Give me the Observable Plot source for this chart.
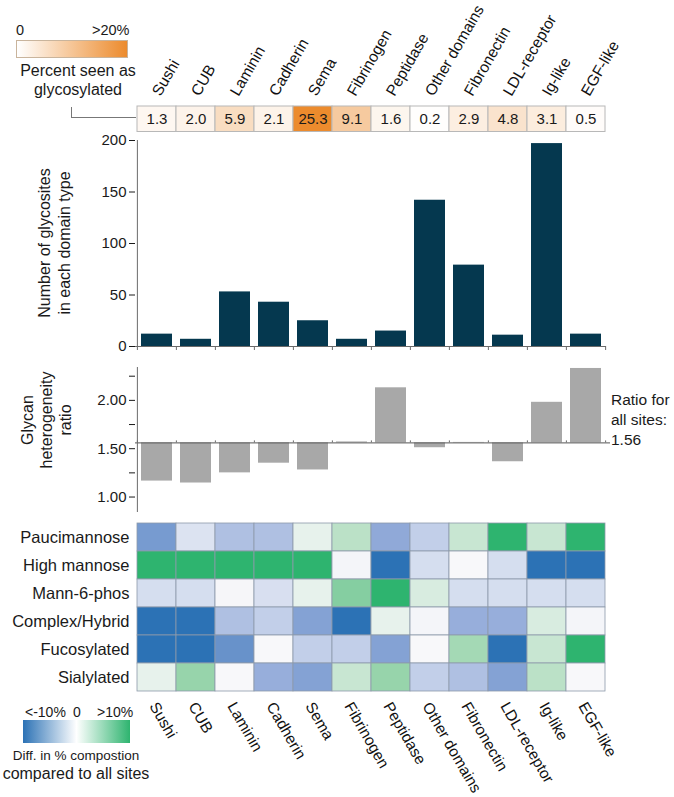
<!DOCTYPE html>
<html>
<head>
<meta charset="utf-8">
<script src="https://cdn.jsdelivr.net/npm/d3@7"></script>
<script src="https://cdn.jsdelivr.net/npm/@observablehq/plot@0.6"></script>
<style>
  html, body { margin: 0; padding: 0; background: #fff; }
  #root { position: relative; width: 674px; height: 797px; overflow: hidden; background: #fff;
          font-family: "Liberation Sans", Arial, Helvetica, sans-serif; color: #1a1a1a; }
  .panel { position: absolute; left: 0; }
  .lbl { position: absolute; white-space: nowrap; }
  .rot { position: absolute; transform: translate(-50%, -50%) rotate(-90deg); text-align: center; white-space: nowrap; }
</style>
</head>
<body>
<div id="root"></div>
<script>
// ---------- data ----------
const domains = ["Sushi", "CUB", "Laminin", "Cadherin", "Sema", "Fibrinogen", "Peptidase",
                 "Other domains", "Fibronectin", "LDL-receptor", "Ig-like", "EGF-like"];
const percentGlycosylated = [1.3, 2.0, 5.9, 2.1, 25.3, 9.1, 1.6, 0.2, 2.9, 4.8, 3.1, 0.5];
const glycositeCounts = [12, 7, 53, 43, 25, 7, 15, 142, 79, 11, 197, 12];
const heterogeneityRatio = [1.165, 1.145, 1.25, 1.35, 1.28, 1.57, 2.13, 1.51, 1.565, 1.365, 1.98, 2.33];
const overallRatio = 1.56;
const glycanTypes = ["Paucimannose", "High mannose", "Mann-6-phos", "Complex/Hybrid", "Fucosylated", "Sialylated"];
const paucimannoseDiff  = [-6.1, -1.3, -3.4, -3.4, 0.9, 3.3, -4.8, -2.5, 2.6, 10, 2.6, 10];
const highMannoseDiff   = [10, 10, 10, 10, 10, -0.2, -10, -1.6, 0, -1.6, -10, -10];
const mann6PhosDiff     = [-1.6, -1.6, -0.1, -1.5, 0.9, 6.0, 10, 1.7, -1.6, -1.6, -1.6, -1.6];
const complexHybridDiff = [-10, -10, -3.4, -2.5, -5.4, -10, 0.9, -0.2, -4.5, -4.5, 1.7, -0.2];
const fucosylatedDiff   = [-10, -10, -6.9, 0, -2.5, -2.5, -5.4, 0, 4.5, -10, 2.6, 10];
const sialylatedDiff    = [0.9, 5.2, 0, -4.5, -5.4, 2.6, 5.2, -2.5, -3.4, -5.4, 3.3, 0];
const countTicks = [0, 50, 100, 150, 200];
const ratioTicks = [1, 1.25, 1.5, 1.75, 2, 2.25];
const ratioTickLabels = [1, 1.5, 2];

// ---------- layout ----------
const W = 674, ML = 135, MR = 68;
const bw = (W - ML - MR) / domains.length;
const FONT = '"Liberation Sans", Arial, Helvetica, sans-serif';
const AXIS = "#6a6a6a";
const baseStyle = (fs) => ({fontFamily: FONT, fontSize: fs, color: "#1a1a1a", background: "transparent", overflow: "visible"});
const xBand = {type: "band", domain: domains, padding: 0, axis: null};
const root = document.getElementById("root");
function place(node, top) { const d = document.createElement("div"); d.className = "panel"; d.style.top = top + "px"; d.appendChild(node); root.appendChild(d); }
function label(html, css) { const d = document.createElement("div"); d.className = "lbl"; d.innerHTML = html; Object.assign(d.style, css); root.appendChild(d); return d; }

// ---------- panel 1: percent glycosylated table ----------
const tableData = domains.map((d, i) => ({domain: d, pct: percentGlycosylated[i]}));
place(Plot.plot({
  width: W, height: 135, marginLeft: ML, marginRight: MR, marginTop: 106, marginBottom: 3.5,
  x: xBand,
  color: {type: "linear", domain: [0, 20], range: ["#ffffff", "#ec8b2d"], clamp: true},
  style: baseStyle("15px"),
  marks: [
    Plot.cell(tableData, {x: "domain", fill: "pct", stroke: "#b8b8b8", strokeWidth: 1, inset: 0}),
    Plot.text(tableData, {x: "domain", text: d => d.pct.toFixed(1), fontSize: 15, fill: "#1a1a1a"}),
    Plot.text(domains, {x: d => d, text: d => d, frameAnchor: "top", dx: -6, dy: -15, rotate: -60,
                        textAnchor: "start", fontSize: 15.5, fill: "#111"})
  ]
}), 0);

// ---------- panel 2: glycosite counts ----------
const countData = domains.map((d, i) => ({domain: d, count: glycositeCounts[i]}));
const last = domains[domains.length - 1];
place(Plot.plot({
  width: W, height: 230, marginLeft: ML, marginRight: MR, marginTop: 10, marginBottom: 14,
  x: xBand,
  y: {domain: [0, 200], ticks: countTicks, tickSize: 6, tickPadding: 3, label: null},
  style: baseStyle("15px"),
  marks: [
    Plot.barY(countData, {x: "domain", y: "count", fill: "#05384f", insetLeft: 4, insetRight: 4}),
    Plot.ruleY([0], {stroke: AXIS}),
    Plot.ruleX([domains[0]], {dx: -bw / 2, stroke: AXIS}),
    Plot.ruleX(domains, {dx: -bw / 2, y1: 0, y2: 0, insetBottom: -4, stroke: AXIS}),
    Plot.ruleX([last], {dx: bw / 2, y1: 0, y2: 0, insetBottom: -4, stroke: AXIS})
  ]
}), 130);

// ---------- panel 3: heterogeneity ratio ----------
const hetData = domains.map((d, i) => ({domain: d, ratio: heterogeneityRatio[i]}));
place(Plot.plot({
  width: W, height: 160, marginLeft: ML, marginRight: MR, marginTop: 12, marginBottom: 3,
  x: xBand,
  y: {domain: [0.84, 2.34], ticks: ratioTicks, tickFormat: d => ratioTickLabels.includes(d) ? d.toFixed(2) : "",
      tickSize: 6, tickPadding: 3, label: null},
  style: baseStyle("15px"),
  marks: [
    Plot.barY(hetData, {x: "domain", y1: overallRatio, y2: "ratio", fill: "#a8a8a8", insetLeft: 4, insetRight: 4}),
    Plot.ruleY([overallRatio], {stroke: "#555", insetRight: -4}),
    Plot.ruleX([domains[0]], {dx: -bw / 2, stroke: AXIS}),
    Plot.ruleX(domains, {dx: -bw / 2, y1: overallRatio, y2: overallRatio, insetTop: -2, stroke: AXIS}),
    Plot.ruleX([last], {dx: bw / 2, y1: overallRatio, y2: overallRatio, insetTop: -2, stroke: AXIS})
  ]
}), 355);

// ---------- panel 4: composition heatmap ----------
const diffRows = [paucimannoseDiff, highMannoseDiff, mann6PhosDiff, complexHybridDiff, fucosylatedDiff, sialylatedDiff];
const heatData = glycanTypes.flatMap((g, r) => diffRows[r].map((v, c) => ({type: g, domain: domains[c], diff: v})));
const divergingStops = ["#2c72b5", "#8ca6d7", "#f8f8fa", "#9bd5ad", "#2eb46f"];
place(Plot.plot({
  width: W, height: 287, marginLeft: ML, marginRight: MR, marginTop: 12, marginBottom: 105,
  x: xBand,
  y: {type: "band", domain: glycanTypes, padding: 0, tickSize: 0, tickPadding: 6, label: null},
  color: {type: "linear", domain: [-10, 10], interpolate: d3.piecewise(d3.interpolateRgb, divergingStops), clamp: true},
  style: baseStyle("16.5px"),
  marks: [
    Plot.cell(heatData, {x: "domain", y: "type", fill: "diff", stroke: "#8d99aa", strokeWidth: 0.8, inset: 0}),
    Plot.text(domains, {x: d => d, text: d => d, frameAnchor: "bottom", dx: -8, dy: 13.5, rotate: 60,
                        textAnchor: "start", fontSize: 15.5, fill: "#111"})
  ]
}), 510);

// ---------- titles & legends ----------
// top legend
label("0", {left: "16px", top: "22px", fontSize: "14.5px"});
label("&gt;20%", {left: "92px", top: "22px", fontSize: "14.5px"});
label("", {left: "16px", top: "40px", width: "110px", height: "16px", border: "1px solid #c9b49c",
           background: "linear-gradient(to right, #ffffff, #ec8b2d)"});
label("Percent seen as<br>glycosylated", {left: "78px", top: "61px", transform: "translateX(-50%)",
           textAlign: "center", fontSize: "16px", lineHeight: "19px"});
label("", {left: "71px", top: "107px", width: "64px", height: "10px", borderLeft: "1px solid #777", borderBottom: "1px solid #777"});

// y titles
const t1 = document.createElement("div"); t1.className = "rot";
Object.assign(t1.style, {left: "55px", top: "243px", fontSize: "16px", lineHeight: "20px"});
t1.innerHTML = "Number of glycosites<br>in each domain type"; root.appendChild(t1);
const t2 = document.createElement("div"); t2.className = "rot";
Object.assign(t2.style, {left: "46px", top: "420px", fontSize: "16px", lineHeight: "19px"});
t2.innerHTML = "Glycan<br>heterogeneity<br>ratio"; root.appendChild(t2);

// ratio note
label("Ratio for<br>all sites:<br>" + overallRatio.toFixed(2), {left: "611px", top: "390px", fontSize: "15.5px", lineHeight: "20px"});

// bottom legend
label("&lt;-10%", {left: "25px", top: "704px", fontSize: "14px"});
label("0", {left: "73px", top: "704px", fontSize: "14px"});
label("&gt;10%", {left: "97px", top: "704px", fontSize: "14px"});
label("", {left: "23px", top: "720px", width: "107px", height: "23px",
           background: "linear-gradient(to right, #2c72b5, #ffffff 50%, #2eb46f)"});
label("Diff. in % compostion", {left: "76px", top: "748px", transform: "translateX(-50%)", fontSize: "13.5px"});
label("compared to all sites", {left: "76px", top: "765px", transform: "translateX(-50%)", fontSize: "16px"});
</script>
</body>
</html>
